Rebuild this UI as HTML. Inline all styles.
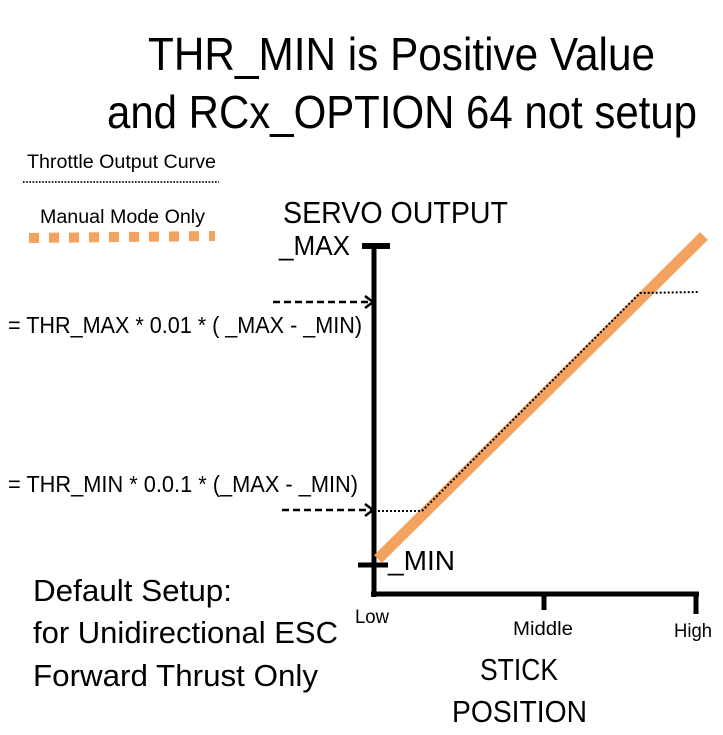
<!DOCTYPE html>
<html><head><meta charset="utf-8"><style>
html,body{margin:0;padding:0;background:#fff;}
svg{display:block;}
text{font-family:"Liberation Sans",sans-serif;fill:#000;}
</style></head><body>
<svg width="723" height="735" viewBox="0 0 723 735" xmlns="http://www.w3.org/2000/svg">
<rect width="723" height="735" fill="#fff"/>
<text x="148" y="70" font-size="46" textLength="507" lengthAdjust="spacingAndGlyphs">THR_MIN is Positive Value</text>
<text x="107" y="128" font-size="46" textLength="590" lengthAdjust="spacingAndGlyphs">and RCx_OPTION 64 not setup</text>
<text x="27" y="168" font-size="19" textLength="189" lengthAdjust="spacingAndGlyphs">Throttle Output Curve</text>
<line x1="23" y1="182" x2="219" y2="182" stroke="#000" stroke-width="1.8" stroke-dasharray="1.6 1.6"/>
<text x="40" y="223" font-size="19" textLength="165" lengthAdjust="spacingAndGlyphs">Manual Mode Only</text>
<line x1="29" y1="238" x2="215" y2="236" stroke="#f4a25f" stroke-width="10" stroke-dasharray="10 10"/>
<text x="283" y="223" font-size="31" textLength="225" lengthAdjust="spacingAndGlyphs">SERVO  OUTPUT</text>
<text x="279" y="255" font-size="28" textLength="71" lengthAdjust="spacingAndGlyphs">_MAX</text>
<text x="8" y="333" font-size="23" textLength="354" lengthAdjust="spacingAndGlyphs">= THR_MAX * 0.01 * ( _MAX - _MIN)</text>
<text x="8" y="492" font-size="23" textLength="350" lengthAdjust="spacingAndGlyphs">= THR_MIN * 0.0.1 * (_MAX - _MIN)</text>
<text x="388" y="570" font-size="28" textLength="67" lengthAdjust="spacingAndGlyphs">_MIN</text>
<line x1="374" y1="245" x2="374" y2="597" stroke="#000" stroke-width="5"/>
<line x1="362" y1="246" x2="390" y2="246" stroke="#000" stroke-width="6"/>
<line x1="358" y1="565" x2="388" y2="565" stroke="#000" stroke-width="5"/>
<line x1="371" y1="594" x2="699" y2="594" stroke="#000" stroke-width="5"/>
<line x1="544" y1="594" x2="544" y2="610" stroke="#000" stroke-width="5"/>
<line x1="696" y1="594" x2="696" y2="614" stroke="#000" stroke-width="5"/>
<line x1="273" y1="302" x2="372" y2="302" stroke="#000" stroke-width="2.5" stroke-dasharray="7 4"/>
<polyline points="365,296 373,302 365,308" fill="none" stroke="#000" stroke-width="2.5"/>
<line x1="282" y1="510" x2="372" y2="510" stroke="#000" stroke-width="2.5" stroke-dasharray="7 4"/>
<polyline points="365,504 373,510 365,516" fill="none" stroke="#000" stroke-width="2.5"/>
<line x1="378" y1="559" x2="704" y2="236" stroke="#f4a25f" stroke-width="11"/>
<polyline points="378,511 422,511 640,293 699,292" fill="none" stroke="#000" stroke-width="2" stroke-dasharray="2 2"/>
<text x="355" y="623" font-size="19" textLength="34" lengthAdjust="spacingAndGlyphs">Low</text>
<text x="513" y="635" font-size="19" textLength="60" lengthAdjust="spacingAndGlyphs">Middle</text>
<text x="674" y="637" font-size="19" textLength="38" lengthAdjust="spacingAndGlyphs">High</text>
<text x="33" y="601" font-size="31" textLength="199" lengthAdjust="spacingAndGlyphs">Default Setup:</text>
<text x="33" y="643" font-size="31" textLength="305" lengthAdjust="spacingAndGlyphs">for Unidirectional ESC</text>
<text x="33" y="686" font-size="31" textLength="285" lengthAdjust="spacingAndGlyphs">Forward Thrust Only</text>
<text x="480" y="680" font-size="31" textLength="78" lengthAdjust="spacingAndGlyphs">STICK</text>
<text x="452" y="722" font-size="31" textLength="135" lengthAdjust="spacingAndGlyphs">POSITION</text>
</svg>
</body></html>
